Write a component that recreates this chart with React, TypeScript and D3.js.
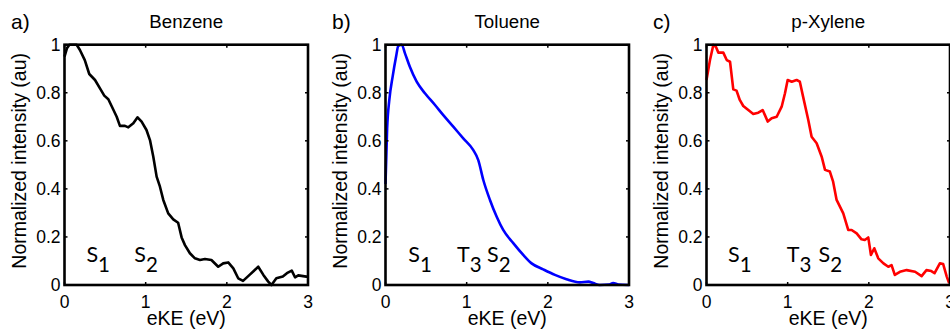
import React from "react";
import * as d3 from "d3";

// photoelectron spectra, eKE (eV) vs normalized intensity
const benzeneEKE = [0, 0.03, 0.06, 0.15, 0.19, 0.25, 0.305, 0.376, 0.437, 0.49, 0.54, 0.58, 0.643, 0.683, 0.745, 0.786, 0.848, 0.9, 0.95, 1.01, 1.053, 1.094, 1.135, 1.176, 1.217, 1.278, 1.34, 1.4, 1.443, 1.484, 1.545, 1.607, 1.669, 1.73, 1.81, 1.894, 1.955, 2.017, 2.08, 2.14, 2.2, 2.28, 2.387, 2.45, 2.51, 2.55, 2.61, 2.69, 2.74, 2.8, 2.84, 2.88, 2.98, 3.0];
const benzeneInt = [0.95, 0.985, 1.0, 1.0, 0.978, 0.936, 0.878, 0.853, 0.818, 0.788, 0.773, 0.745, 0.7, 0.662, 0.662, 0.656, 0.673, 0.698, 0.68, 0.645, 0.603, 0.534, 0.451, 0.409, 0.354, 0.298, 0.273, 0.259, 0.198, 0.166, 0.132, 0.111, 0.104, 0.108, 0.104, 0.076, 0.09, 0.094, 0.069, 0.028, 0.017, 0.042, 0.076, 0.042, 0.014, 0.0, 0.028, 0.035, 0.049, 0.06, 0.032, 0.04, 0.035, 0.035];

const tolueneEKE = [0, 0.02, 0.047, 0.088, 0.13, 0.158, 0.2, 0.24, 0.3, 0.384, 0.486, 0.61, 0.712, 0.835, 0.958, 1.08, 1.143, 1.205, 1.287, 1.37, 1.45, 1.574, 1.697, 1.8, 1.943, 2.087, 2.23, 2.395, 2.5, 2.56, 2.64, 2.75, 2.805, 2.87, 3.0];
const tolueneInt = [0.42, 0.65, 0.77, 0.867, 0.95, 0.995, 1.0, 0.964, 0.908, 0.846, 0.798, 0.749, 0.707, 0.659, 0.61, 0.562, 0.52, 0.437, 0.354, 0.284, 0.229, 0.174, 0.125, 0.09, 0.065, 0.042, 0.024, 0.011, 0.014, 0.008, 0.0, 0.002, 0.008, 0.002, 0.0];

const xyleneEKE = [0, 0.043, 0.084, 0.117, 0.146, 0.207, 0.249, 0.29, 0.33, 0.37, 0.41, 0.453, 0.515, 0.576, 0.638, 0.692, 0.72, 0.754, 0.803, 0.865, 0.926, 0.967, 1.0, 1.05, 1.11, 1.15, 1.19, 1.254, 1.295, 1.357, 1.419, 1.46, 1.52, 1.56, 1.603, 1.685, 1.746, 1.788, 1.85, 1.91, 1.95, 1.993, 2.026, 2.067, 2.116, 2.18, 2.24, 2.28, 2.32, 2.383, 2.466, 2.57, 2.65, 2.71, 2.77, 2.81, 2.875, 2.916, 2.96, 2.99];
const xyleneInt = [0.853, 0.936, 0.999, 0.99, 0.967, 0.967, 0.936, 0.929, 0.814, 0.809, 0.77, 0.745, 0.728, 0.712, 0.717, 0.728, 0.707, 0.68, 0.694, 0.7, 0.742, 0.798, 0.853, 0.846, 0.853, 0.846, 0.784, 0.687, 0.617, 0.59, 0.534, 0.479, 0.472, 0.43, 0.354, 0.298, 0.229, 0.229, 0.215, 0.19, 0.187, 0.198, 0.125, 0.153, 0.111, 0.09, 0.076, 0.083, 0.042, 0.055, 0.062, 0.055, 0.037, 0.062, 0.058, 0.049, 0.09, 0.087, 0.035, 0.007];

const panelLetters = ["a)", "b)", "c)"];
const panelTitles = ["Benzene", "Toluene", "p-Xylene"];
const panelColors = ["#000000", "#0000ff", "#ff0000"];
const panelEKE = [benzeneEKE, tolueneEKE, xyleneEKE];
const panelInt = [benzeneInt, tolueneInt, xyleneInt];
// toluene trace is smooth in the original, the others are noisy
const panelCurves = [d3.curveLinear, d3.curveMonotoneX, d3.curveLinear];

// state labels: [letter, subscript, eKE position]
const benzeneStates: [string, string, number][] = [["S", "1", 0.27], ["S", "2", 0.86]];
const tolueneStates: [string, string, number][] = [["S", "1", 0.28], ["T", "3", 0.88], ["S", "2", 1.25]];
const xyleneStates: [string, string, number][] = [["S", "1", 0.265], ["T", "3", 0.99], ["S", "2", 1.38]];
const panelStates = [benzeneStates, tolueneStates, xyleneStates];
const stateLabelY = 0.096;

const xTicks = [0, 1, 2, 3];
const yTicks = [0, 0.2, 0.4, 0.6, 0.8, 1];
const yTickLabels = ["0", "0.2", "0.4", "0.6", "0.8", "1"];

const W = 950;
const H = 330;
const top = 44.7;
const bottom = 285;
const plotW = 243.5;
const firstLeft = 64.5;
const step = 321;
const font = "'Liberation Sans', Arial, sans-serif";

function Panel({ i }: { i: number }) {
  const left = firstLeft + i * step;
  const x = d3.scaleLinear().domain([0, 3]).range([left, left + plotW]);
  const y = d3.scaleLinear().domain([0, 1]).range([bottom, top]);
  const pts = panelEKE[i].map((e, k) => [e, panelInt[i][k]] as [number, number]);
  const line = d3
    .line<[number, number]>()
    .x((d) => x(d[0]))
    .y((d) => y(d[1]))
    .curve(panelCurves[i]);
  const tl = 3;
  return (
    <g>
      <text x={left - 53.5} y={29} fontSize={21} fontFamily={font}>
        {panelLetters[i]}
      </text>
      <text x={left + plotW / 2} y={28.3} fontSize={18.7} fontFamily={font} textAnchor="middle">
        {panelTitles[i]}
      </text>
      <path d={line(pts) || ""} fill="none" stroke={panelColors[i]} strokeWidth={2.6} strokeLinejoin="round" />
      {xTicks.map((t) => (
        <g key={"x" + t}>
          <line x1={x(t)} x2={x(t)} y1={bottom} y2={bottom - tl} stroke="#000" strokeWidth={1.5} />
          <line x1={x(t)} x2={x(t)} y1={top} y2={top + tl} stroke="#000" strokeWidth={1.5} />
          <text x={x(t)} y={bottom + 23} fontSize={17.5} fontFamily={font} textAnchor="middle">
            {t}
          </text>
        </g>
      ))}
      {yTicks.map((t, k) => (
        <g key={"y" + t}>
          <line x1={left} x2={left + tl} y1={y(t)} y2={y(t)} stroke="#000" strokeWidth={1.5} />
          <line x1={left + plotW} x2={left + plotW - tl} y1={y(t)} y2={y(t)} stroke="#000" strokeWidth={1.5} />
          <text x={left - 4} y={y(t) + 6} fontSize={17.5} fontFamily={font} textAnchor="end">
            {yTickLabels[k]}
          </text>
        </g>
      ))}
      <rect x={left} y={top} width={plotW} height={bottom - top} fill="none" stroke="#000" strokeWidth={2.6} />
      {panelStates[i].map(([s, sub, e]) => (
        <text key={s + sub} x={x(e)} y={y(stateLabelY)} fontSize={21.5} fontFamily="Lato, 'Open Sans', sans-serif">
          {s}
          <tspan dy={10} fontSize={20.5}>
            {sub}
          </tspan>
        </text>
      ))}
      <text x={left + plotW / 2} y={325} fontSize={19.5} fontFamily={font} textAnchor="middle">
        eKE (eV)
      </text>
      <text
        transform={`translate(${left - 46},${(top + bottom) / 2 - 4}) rotate(-90)`}
        fontSize={19.5}
        fontFamily={font}
        textAnchor="middle"
        dominantBaseline="central"
      >
        Normalized intensity (au)
      </text>
    </g>
  );
}

export default function App() {
  return (
    <svg
      width={W}
      height={H}
      viewBox={`0 0 ${W} ${H}`}
      style={{ position: "absolute", left: 0, top: 0, background: "#fff" }}
    >
      <rect width={W} height={H} fill="#fff" />
      {[0, 1, 2].map((i) => (
        <Panel key={i} i={i} />
      ))}
    </svg>
  );
}
